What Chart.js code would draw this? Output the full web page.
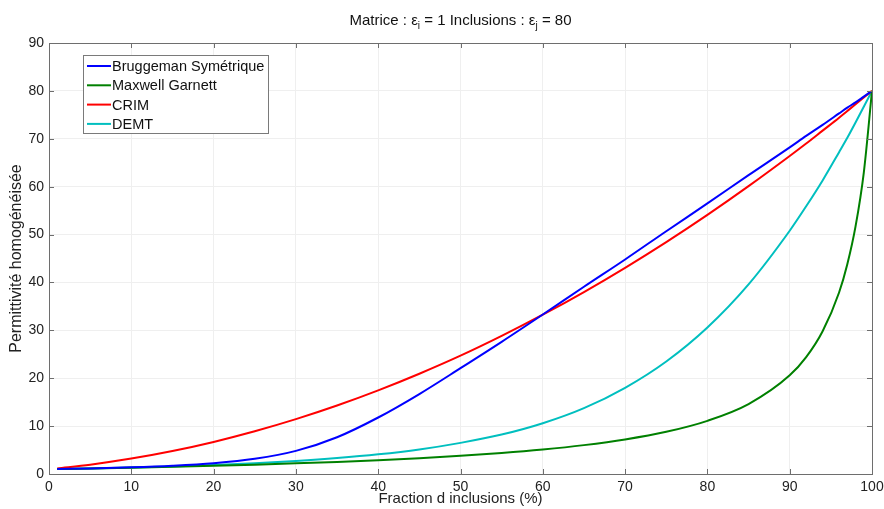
<!DOCTYPE html>
<html>
<head>
<meta charset="utf-8">
<script src="https://cdn.jsdelivr.net/npm/chart.js@4/dist/chart.umd.min.js"></script>
<style>
  html, body { margin: 0; padding: 0; background: #fff; }
  #wrap { width: 884px; height: 509px; }
</style>
</head>
<body>
<div id="wrap"><canvas id="chart" width="884" height="509"></canvas></div>
<script>
// ========================================
// DATA
// ========================================

const fractions = [1, 5, 10, 15, 20, 25, 30, 35, 40, 45, 50, 55, 60, 65, 70, 75, 80, 85, 90, 92, 94, 96, 97, 98, 99, 100];

const bruggeman = [1.03, 1.17, 1.40, 1.74, 2.27, 3.19, 4.83, 7.68, 11.8, 16.7, 22.1, 27.6, 33.3, 39.1, 44.8, 50.7, 56.5, 62.4, 68.2, 70.6, 72.9, 75.3, 76.5, 77.6, 78.8, 80];
const maxwellGarnett = [1.03, 1.15, 1.32, 1.51, 1.72, 1.95, 2.22, 2.53, 2.88, 3.30, 3.79, 4.38, 5.11, 6.03, 7.21, 8.81, 11.1, 14.6, 20.6, 24.4, 29.8, 37.9, 43.8, 51.7, 62.9, 80];
const crim = [1.17, 1.95, 3.22, 4.80, 6.70, 8.92, 11.45, 14.29, 17.45, 20.93, 24.7, 28.83, 33.26, 37.99, 43.05, 48.42, 54.1, 60.1, 66.4, 69.0, 71.7, 74.4, 75.8, 77.2, 78.6, 80];
const demt = [1.03, 1.16, 1.35, 1.59, 1.88, 2.26, 2.73, 3.33, 4.1, 5.12, 6.5, 8.23, 10.6, 13.75, 18.0, 23.5, 30.6, 39.6, 50.8, 55.9, 61.3, 67.2, 70.2, 73.4, 76.7, 80];

const seriesLabels = ['Bruggeman Symétrique', 'Maxwell Garnett', 'CRIM', 'DEMT'];
const xTicks = [0, 10, 20, 30, 40, 50, 60, 70, 80, 90, 100];
const yTicks = [0, 10, 20, 30, 40, 50, 60, 70, 80, 90];

const COLORS = ['#0000ff', '#008000', '#ff0000', '#00bfbf'];
const FONT = "'Liberation Sans', Arial, sans-serif";

// ========================================
// PLUGINS
// ========================================

// Title with subscripts
const titlePlugin = {
    id: 'subTitle',
    afterDraw(chart) {
        const ctx = chart.ctx;
        const parts = [
            ['Matrice : ε', false], ['i', true], [' = 1 Inclusions : ε', false], ['j', true], [' = 80', false]
        ];
        const big = '15px ' + FONT, small = '10px ' + FONT;
        let total = 0;
        parts.forEach(([t, sub]) => { ctx.font = sub ? small : big; total += ctx.measureText(t).width; });
        const area = chart.chartArea;
        let x = (area.left + area.right) / 2 - total / 2;
        ctx.save();
        ctx.fillStyle = '#111';
        ctx.textBaseline = 'alphabetic';
        parts.forEach(([t, sub]) => {
            ctx.font = sub ? small : big;
            ctx.fillText(t, x, sub ? 29 : 25);
            x += ctx.measureText(t).width;
        });
        ctx.restore();
    }
};

// Plot box + inward tick marks (MATLAB style)
const boxPlugin = {
    id: 'box',
    afterDatasetsDraw(chart) {
        const { ctx, chartArea: a, scales } = chart;
        ctx.save();
        ctx.strokeStyle = '#6e6e6e';
        ctx.lineWidth = 1;
        ctx.beginPath();
        xTicks.forEach(v => {
            const px = Math.round(scales.x.getPixelForValue(v)) + 0.5;
            ctx.moveTo(px, a.bottom); ctx.lineTo(px, a.bottom - 5);
            ctx.moveTo(px, a.top); ctx.lineTo(px, a.top + 5);
        });
        yTicks.forEach(v => {
            const py = Math.round(scales.y.getPixelForValue(v)) + 0.5;
            ctx.moveTo(a.left, py); ctx.lineTo(a.left + 5, py);
            ctx.moveTo(a.right, py); ctx.lineTo(a.right - 5, py);
        });
        ctx.stroke();
        ctx.strokeRect(Math.round(a.left) + 0.5, Math.round(a.top) + 0.5,
            Math.round(a.right - a.left), Math.round(a.bottom - a.top));
        ctx.restore();
    }
};

// Boxed legend in the upper left of the plot
const legendPlugin = {
    id: 'boxLegend',
    afterDraw(chart) {
        const ctx = chart.ctx;
        const x0 = 83, y0 = 55, w = 185, h = 78, rowH = 19.3;
        ctx.save();
        ctx.fillStyle = '#fff';
        ctx.fillRect(x0, y0, w, h);
        ctx.strokeStyle = '#7a7a7a';
        ctx.lineWidth = 1;
        ctx.strokeRect(x0 + 0.5, y0 + 0.5, w, h);
        ctx.font = '14.5px ' + FONT;
        ctx.textBaseline = 'middle';
        chart.data.datasets.forEach((ds, i) => {
            const y = y0 + 11 + i * rowH;
            ctx.strokeStyle = ds.borderColor;
            ctx.lineWidth = 2;
            ctx.beginPath();
            ctx.moveTo(87, y); ctx.lineTo(111, y);
            ctx.stroke();
            ctx.fillStyle = '#111';
            ctx.fillText(ds.label, 112, y + 1);
        });
        ctx.restore();
    }
};

// ========================================
// CHART
// ========================================

const allSeries = [bruggeman, maxwellGarnett, crim, demt];

const datasets = allSeries.map((vals, i) => ({
    label: seriesLabels[i],
    data: fractions.map((f, k) => ({ x: f, y: vals[k] })),
    borderColor: COLORS[i],
    backgroundColor: COLORS[i],
    borderWidth: 2,
    pointRadius: 0,
    fill: false,
    cubicInterpolationMode: 'monotone'
}));

new Chart(document.getElementById('chart'), {
    type: 'line',
    data: { datasets },
    options: {
        responsive: false,
        animation: false,
        layout: { padding: { top: 43, right: 12, left: 0, bottom: 0 } },
        plugins: {
            legend: { display: false },
            title: { display: false },
            tooltip: { enabled: false }
        },
        scales: {
            x: {
                type: 'linear',
                min: 0,
                max: 100,
                afterBuildTicks: s => { s.ticks = xTicks.map(v => ({ value: v })); },
                afterFit: s => { s.height = 35; s.paddingLeft = 0; s.paddingRight = 0; },
                grid: { color: '#efefef', drawTicks: false },
                border: { display: false },
                ticks: { padding: 5, color: '#222', font: { family: FONT, size: 14 }, maxRotation: 0 },
                title: {
                    display: true,
                    text: 'Fraction d inclusions (%)',
                    color: '#222',
                    font: { family: FONT, size: 15 },
                    padding: { top: 0, bottom: 1 }
                }
            },
            y: {
                min: 0,
                max: 90,
                afterBuildTicks: s => { s.ticks = yTicks.map(v => ({ value: v })); },
                afterFit: s => { s.width = 49; s.paddingTop = 0; s.paddingBottom = 0; },
                grid: { color: '#efefef', drawTicks: false },
                border: { display: false },
                ticks: { padding: 5, color: '#222', font: { family: FONT, size: 14 } },
                title: {
                    display: true,
                    text: 'Permittivité homogénéisée',
                    color: '#222',
                    font: { family: FONT, size: 16 },
                    padding: { top: 7, bottom: 0 }
                }
            }
        }
    },
    plugins: [boxPlugin, legendPlugin, titlePlugin]
});
</script>
</body>
</html>
